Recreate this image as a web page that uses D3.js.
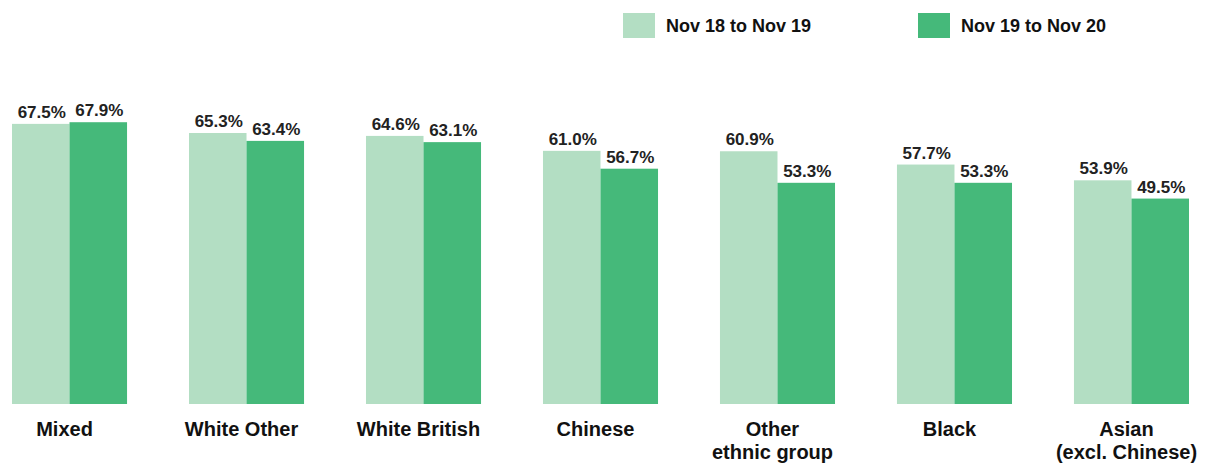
<!DOCTYPE html>
<html>
<head>
<meta charset="utf-8">
<script src="https://cdn.jsdelivr.net/npm/d3@7"></script>
<style>
  body { margin: 0; background: #fff; }
  svg { display: block; font-family: "Liberation Sans", Arial, sans-serif; }
</style>
</head>
<body>
<div id="graphicContainer"></div>
<script>
var categories = ["Mixed", "White Other", "White British", "Chinese", "Other\nethnic group", "Black", "Asian\n(excl. Chinese)"]
var series = ["Nov 18 to Nov 19", "Nov 19 to Nov 20"]
var values1819 = [67.5, 65.3, 64.6, 61.0, 60.9, 57.7, 53.9]
var values1920 = [67.9, 63.4, 63.1, 56.7, 53.3, 53.3, 49.5]
var colours = ["#b3dec3", "#45b97a"]

var width = 1213, height = 464
var baseline = 404

var data = categories.map(function (c, i) {
  return { cat: c, vals: [values1819[i], values1920[i]] }
})

var svg = d3.select("#graphicContainer").append("svg")
  .attr("width", width)
  .attr("height", height)

var x = d3.scaleBand().domain(categories).range([12, 1189]).paddingInner(0.35).paddingOuter(0)
var xs = d3.scaleBand().domain([0, 1]).range([0, x.bandwidth()])
var y = d3.scaleLinear().domain([0, 70]).range([baseline, baseline - 70 * 4.15])

var groups = svg.selectAll(".group")
  .data(data)
  .enter().append("g")
  .attr("class", "group")
  .attr("transform", function (d) { return "translate(" + x(d.cat) + ",0)" })

groups.selectAll("rect")
  .data(function (d) { return d.vals })
  .enter().append("rect")
  .attr("x", function (d, i) { return xs(i) })
  .attr("y", function (d) { return y(d) })
  .attr("width", xs.bandwidth())
  .attr("height", function (d) { return y(0) - y(d) })
  .style("fill", function (d, i) { return colours[i] })

groups.selectAll(".val")
  .data(function (d) { return d.vals })
  .enter().append("text")
  .attr("class", "val")
  .attr("x", function (d, i) { return xs(i) + xs.bandwidth() / 2 + 1 })
  .attr("y", function (d) { return y(d) - 6 })
  .attr("text-anchor", "middle")
  .style("font-size", "17px")
  .style("font-weight", "bold")
  .style("fill", "#222")
  .text(function (d) { return d.toFixed(1) + "%" })

// category labels, split on newline
var labels = svg.selectAll(".cat")
  .data(categories)
  .enter().append("text")
  .attr("class", "cat")
  .attr("x", function (d) { return x(d) + x.bandwidth() / 2 - 5 })
  .attr("y", 436)
  .attr("text-anchor", "middle")
  .style("font-size", "20px")
  .style("font-weight", "bold")
  .style("fill", "#111")

labels.selectAll("tspan")
  .data(function (d) { return d.split("\n") })
  .enter().append("tspan")
  .attr("x", function () { return d3.select(this.parentNode).attr("x") })
  .attr("dy", function (d, i) { return i ? 23 : 0 })
  .text(function (d) { return d })

// legend
var legendX = [623, 918]
var legend = svg.selectAll(".legend")
  .data(series)
  .enter().append("g")
  .attr("class", "legend")
  .attr("transform", function (d, i) { return "translate(" + legendX[i] + ",13)" })

legend.append("rect")
  .attr("width", 32)
  .attr("height", 25)
  .style("fill", function (d, i) { return colours[i] })

legend.append("text")
  .attr("x", 43)
  .attr("y", 19)
  .style("font-size", "18px")
  .style("font-weight", "bold")
  .style("fill", "#111")
  .text(function (d) { return d })
</script>
</body>
</html>
